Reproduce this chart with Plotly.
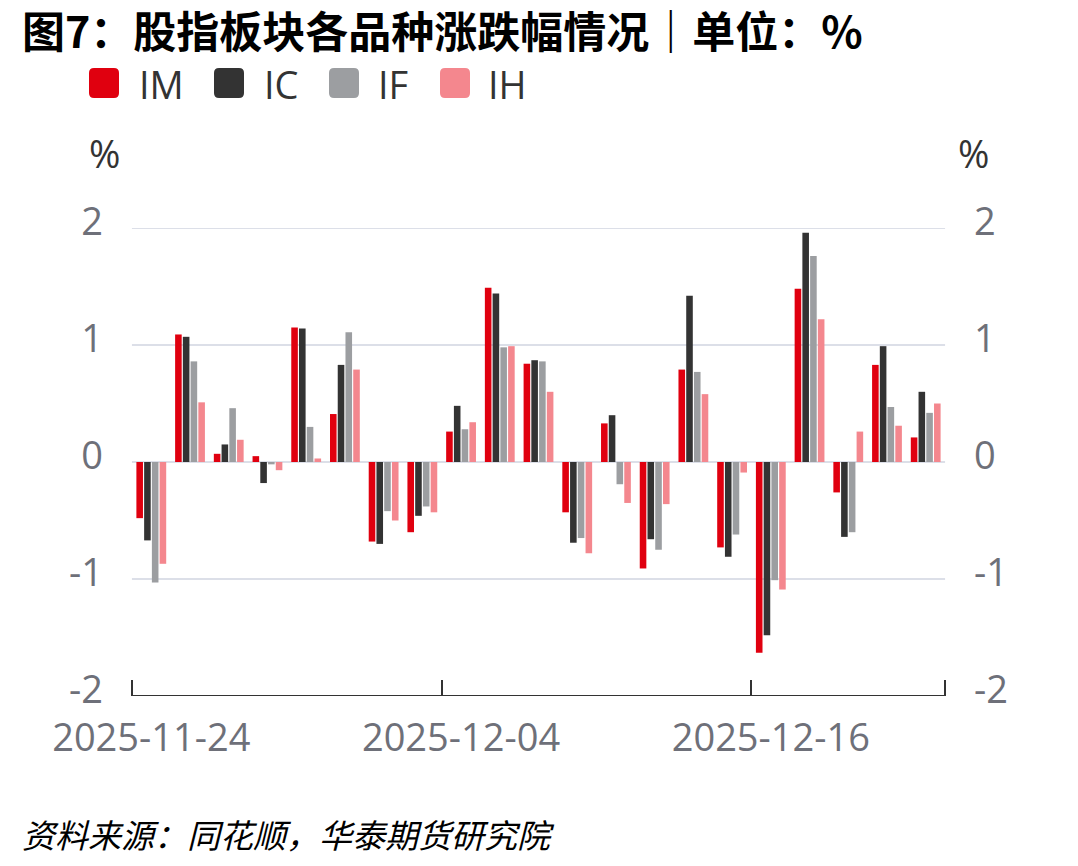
import plotly.graph_objects as go

dates = ["2025-11-24", "2025-11-25", "2025-11-26", "2025-11-27", "2025-11-28",
         "2025-12-01", "2025-12-02", "2025-12-03", "2025-12-04", "2025-12-05",
         "2025-12-08", "2025-12-09", "2025-12-10", "2025-12-11", "2025-12-12",
         "2025-12-15", "2025-12-16", "2025-12-17", "2025-12-18", "2025-12-19",
         "2025-12-22"]

im = [-0.48, 1.09, 0.07, 0.05, 1.15, 0.41, -0.68, -0.60, 0.26, 1.49, 0.84,
      -0.43, 0.33, -0.91, 0.79, -0.73, -1.63, 1.48, -0.26, 0.83, 0.21]
ic = [-0.67, 1.07, 0.15, -0.18, 1.14, 0.83, -0.70, -0.46, 0.48, 1.44, 0.87,
      -0.69, 0.40, -0.66, 1.42, -0.81, -1.48, 1.96, -0.64, 0.99, 0.60]
if_ = [-1.03, 0.86, 0.46, -0.02, 0.30, 1.11, -0.42, -0.38, 0.28, 0.98, 0.86,
       -0.65, -0.19, -0.75, 0.77, -0.62, -1.01, 1.76, -0.60, 0.47, 0.42]
ih = [-0.87, 0.51, 0.19, -0.07, 0.03, 0.79, -0.50, -0.43, 0.34, 0.99, 0.60,
      -0.78, -0.35, -0.36, 0.58, -0.09, -1.09, 1.22, 0.26, 0.31, 0.50]

series_names = ["IM", "IC", "IF", "IH"]
series_vals = [im, ic, if_, ih]
colors = ["#e0000f", "#333333", "#9c9ea1", "#f4878e"]

title_text = "图7：股指板块各品种涨跌幅情况｜单位：%"
source_text = "资料来源：同花顺，华泰期货研究院"
label_dates = [dates[0], dates[8], dates[16]]
y_ticks = [-2, -1, 0, 1, 2]
y_ticktext = ["-2", "-1", "0", "1", "2"]

W, H = 1078, 866
L, R, T, B = 130, 131, 228, 170
PW, PH = W - L - R, H - T - B
n = len(dates)
x_range = [-0.55, n - 0.45]
bound_ticks = [-0.5, 7.5, 15.5, n - 0.5]

def px(x):
    return (x - L) / PW

def py(y):
    return (H - B - y) / PH

fig = go.Figure()
for name, vals, col in zip(series_names, series_vals, colors):
    fig.add_trace(go.Bar(x=dates, y=vals, name=name, marker_color=col,
                         marker_line_width=0, showlegend=False))

# invisible helper trace so the secondary (right / boundary-tick) axes are drawn
fig.add_trace(go.Scatter(x=list(range(n)), y=im, xaxis="x2", yaxis="y2",
                         mode="markers", marker=dict(opacity=0), showlegend=False,
                         hoverinfo="skip"))

tick_font = dict(family="Open Sans", size=38, color="#6e7079")
grid_col = "#dcdfe8"

fig.update_layout(
    width=W, height=H,
    margin=dict(l=L, r=R, t=T, b=B, pad=0),
    paper_bgcolor="white", plot_bgcolor="white",
    barmode="group", bargap=0.2, bargroupgap=0.15,
    xaxis=dict(type="category", range=x_range, tickvals=label_dates, ticktext=label_dates,
               ticks="", showgrid=False, zeroline=False,
               showline=False, tickfont=tick_font, ticklabelstandoff=16),
    xaxis2=dict(overlaying="x", anchor="y", side="bottom", range=x_range,
                tickvals=bound_ticks, ticks="inside", ticklen=16,
                tickwidth=2, tickcolor="#333333", showticklabels=False,
                showgrid=False, zeroline=False, showline=False),
    yaxis=dict(range=[-2, 2], tickvals=y_ticks, ticktext=y_ticktext, ticks="",
               showgrid=False, zeroline=False, showline=False,
               tickfont=tick_font, ticklabelstandoff=26, ticklabelshift=-6),
    yaxis2=dict(range=[-2, 2], tickvals=y_ticks, ticktext=y_ticktext, overlaying="y",
                side="right", anchor="x", ticks="", showgrid=False, zeroline=False,
                showline=False, tickfont=tick_font, ticklabelstandoff=26,
                ticklabelshift=-6),
)

shapes = []
annotations = []
# gridlines and bottom axis line spanning category boundaries [-0.5, n-0.5]
for yv in y_ticks:
    is_axis = yv == y_ticks[0]
    shapes.append(dict(type="line", xref="x2", yref="y", x0=bound_ticks[0], x1=bound_ticks[-1],
                       y0=yv, y1=yv, layer="below" if not is_axis else "above",
                       line=dict(color="#333333" if is_axis else grid_col, width=2)))

# title
annotations.append(dict(text="<b>" + title_text + "</b>", xref="paper", yref="paper",
                        x=px(20), y=py(29), xanchor="left", yanchor="middle", showarrow=False,
                        font=dict(family="Noto Sans CJK SC", size=43, color="#000000")))

# legend (manual, large rounded squares)
leg_sq_x = [89, 214, 329, 440]
leg_tx_x = [137, 262, 376, 486]
leg_cy = 83
sq = 30
rad = 5
for name, col, sx, tx in zip(series_names, colors, leg_sq_x, leg_tx_x):
    x0, x1 = sx, sx + sq
    y0, y1 = leg_cy - sq / 2, leg_cy + sq / 2
    path = (f"M {px(x0 + rad)},{py(y0)} L {px(x1 - rad)},{py(y0)} "
            f"Q {px(x1)},{py(y0)} {px(x1)},{py(y0 + rad)} "
            f"L {px(x1)},{py(y1 - rad)} Q {px(x1)},{py(y1)} {px(x1 - rad)},{py(y1)} "
            f"L {px(x0 + rad)},{py(y1)} Q {px(x0)},{py(y1)} {px(x0)},{py(y1 - rad)} "
            f"L {px(x0)},{py(y0 + rad)} Q {px(x0)},{py(y0)} {px(x0 + rad)},{py(y0)} Z")
    shapes.append(dict(type="path", xref="paper", yref="paper", path=path,
                       fillcolor=col, line=dict(width=0)))
    annotations.append(dict(text=name, xref="paper", yref="paper", x=px(tx), y=py(leg_cy + 1),
                            xanchor="left", yanchor="middle", showarrow=False,
                            font=dict(family="Open Sans", size=38, color="#333333")))

for xc in [104, 973]:
    annotations.append(dict(text="%", xref="paper", yref="paper", x=px(xc), y=py(153),
                            xanchor="center", yanchor="middle", showarrow=False,
                            font=dict(family="Open Sans", size=38, color="#333333")))

annotations.append(dict(text="<i>" + source_text + "</i>", xref="paper", yref="paper",
                        x=px(20), y=py(834), xanchor="left", yanchor="middle", showarrow=False,
                        font=dict(family="Noto Sans CJK SC", size=33, color="#000000")))

fig.update_layout(shapes=shapes, annotations=annotations)
fig.write_html("out.html")
